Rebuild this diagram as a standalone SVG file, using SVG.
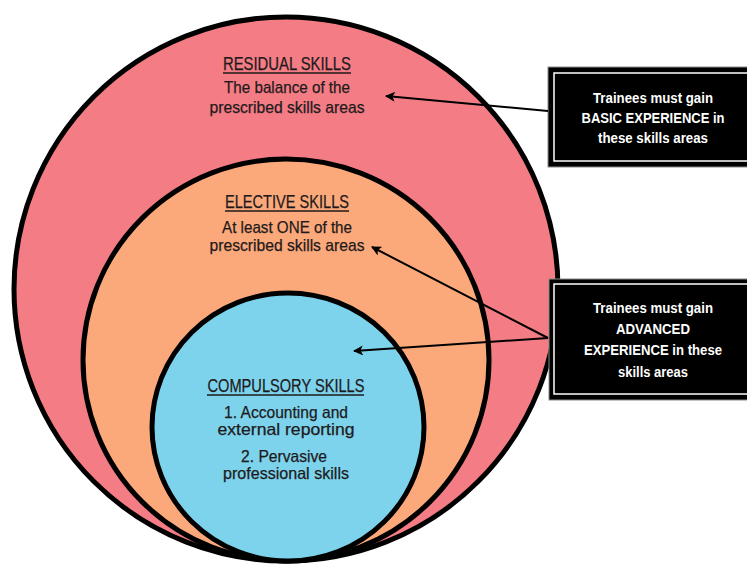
<svg xmlns="http://www.w3.org/2000/svg" width="747" height="565" viewBox="0 0 747 565">
  <defs>
    <style>
      .ring { stroke: #000; stroke-width: 5; }
      .lbl { font-family: "Liberation Sans", Arial, sans-serif; font-size: 17px; fill: #1e1a1c; stroke: #1e1a1c; stroke-width: 0.25; text-anchor: middle; }
      .hd { font-size: 18.5px; }
      .sm { font-size: 16.5px; }
      .box { fill: #000; stroke: #8a8a8a; stroke-width: 1; }
      .boxin { fill: none; stroke: #fff; stroke-width: 1.5; }
      .btxt { font-family: "Liberation Sans", Arial, sans-serif; font-size: 14.5px; font-weight: bold; fill: #fff; text-anchor: middle; }
      .ul { stroke: #1e1a1c; stroke-width: 1.3; }
      .conn { stroke: #000; stroke-width: 2; fill: none; marker-end: url(#head); }
    </style>
    <marker id="head" viewBox="0 0 10 10" refX="9" refY="5" markerWidth="5.5" markerHeight="5" orient="auto" markerUnits="strokeWidth">
      <path d="M0,0 L10,5 L0,10 L2.5,5 Z" fill="#000"/>
    </marker>
  </defs>

  <rect width="747" height="565" fill="#fff"/>

  <!-- Outer ring: residual skills -->
  <g id="residual">
    <ellipse class="ring" cx="286" cy="289" rx="272" ry="272" fill="#f47c84"/>
    <text class="lbl hd" x="287" y="70" textLength="128" lengthAdjust="spacingAndGlyphs">RESIDUAL SKILLS</text>
    <line class="ul" x1="223" y1="73" x2="351" y2="73"/>
    <text class="lbl" x="287" y="93" textLength="126" lengthAdjust="spacingAndGlyphs">The balance of the</text>
    <text class="lbl" x="287" y="113" textLength="155" lengthAdjust="spacingAndGlyphs">prescribed skills areas</text>
  </g>

  <!-- Middle ring: elective skills -->
  <g id="elective">
    <ellipse class="ring" cx="286" cy="360" rx="203" ry="201" fill="#fba97a"/>
    <text class="lbl hd" x="287" y="208" textLength="124" lengthAdjust="spacingAndGlyphs">ELECTIVE SKILLS</text>
    <line class="ul" x1="225" y1="211" x2="349" y2="211"/>
    <text class="lbl" x="287" y="233" textLength="130" lengthAdjust="spacingAndGlyphs">At least ONE of the</text>
    <text class="lbl" x="287" y="251" textLength="155" lengthAdjust="spacingAndGlyphs">prescribed skills areas</text>
  </g>

  <!-- Inner ring: compulsory skills -->
  <g id="compulsory">
    <ellipse class="ring" cx="288" cy="427" rx="136" ry="134" fill="#7dd3ec"/>
    <text class="lbl hd" x="286" y="392" textLength="157" lengthAdjust="spacingAndGlyphs">COMPULSORY SKILLS</text>
    <line class="ul" x1="207" y1="395" x2="364" y2="395"/>
    <text class="lbl sm" x="286" y="418" textLength="124" lengthAdjust="spacingAndGlyphs">1. Accounting and</text>
    <text class="lbl sm" x="286" y="435" textLength="137" lengthAdjust="spacingAndGlyphs">external reporting</text>
    <text class="lbl sm" x="284" y="462" textLength="86" lengthAdjust="spacingAndGlyphs">2. Pervasive</text>
    <text class="lbl sm" x="286" y="479" textLength="126" lengthAdjust="spacingAndGlyphs">professional skills</text>
  </g>

  <!-- Callout: basic experience -->
  <g id="basic">
    <rect class="box" x="548" y="67" width="212" height="100"/>
    <rect class="boxin" x="554" y="73" width="200" height="88"/>
    <text class="btxt" x="653" y="103" textLength="120" lengthAdjust="spacingAndGlyphs">Trainees must gain</text>
    <text class="btxt" x="653" y="123" textLength="143" lengthAdjust="spacingAndGlyphs">BASIC EXPERIENCE in</text>
    <text class="btxt" x="653" y="143" textLength="110" lengthAdjust="spacingAndGlyphs">these skills areas</text>
  </g>

  <!-- Callout: advanced experience -->
  <g id="advanced">
    <rect class="box" x="549" y="279" width="212" height="121"/>
    <rect class="boxin" x="554" y="284" width="200" height="110"/>
    <text class="btxt" x="653" y="313" textLength="120" lengthAdjust="spacingAndGlyphs">Trainees must gain</text>
    <text class="btxt" x="653" y="334" textLength="74" lengthAdjust="spacingAndGlyphs">ADVANCED</text>
    <text class="btxt" x="653" y="355" textLength="138" lengthAdjust="spacingAndGlyphs">EXPERIENCE in these</text>
    <text class="btxt" x="653" y="377" textLength="70" lengthAdjust="spacingAndGlyphs">skills areas</text>
  </g>

  <!-- Connectors -->
  <g id="connectors">
    <line class="conn" x1="548" y1="111" x2="386" y2="96"/>
    <line class="conn" x1="548" y1="338" x2="372" y2="247"/>
    <line class="conn" x1="548" y1="338" x2="354" y2="351"/>
  </g>
</svg>
